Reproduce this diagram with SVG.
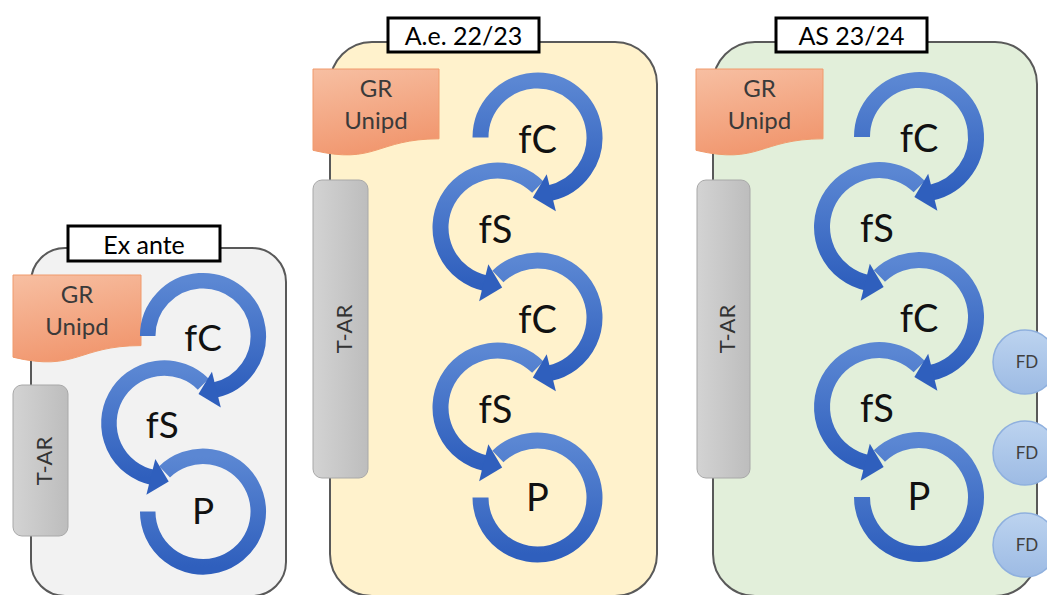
<svg xmlns="http://www.w3.org/2000/svg" xmlns:xlink="http://www.w3.org/1999/xlink" width="1047" height="595" viewBox="0 0 1047 595">
<defs>
<linearGradient id="gArc" x1="0" y1="0" x2="0" y2="1"><stop offset="0" stop-color="#5b87d3"/><stop offset="1" stop-color="#2f5fbd"/></linearGradient>
<linearGradient id="gTag" x1="0" y1="0" x2="0.3" y2="1"><stop offset="0" stop-color="#f7bfa2"/><stop offset="1" stop-color="#f19870"/></linearGradient>
<linearGradient id="gPill" x1="0" y1="0" x2="1" y2="0"><stop offset="0" stop-color="#d3d3d3"/><stop offset="1" stop-color="#bdbdbd"/></linearGradient>
<linearGradient id="gFD" x1="0" y1="0" x2="0" y2="1"><stop offset="0" stop-color="#bcd3ef"/><stop offset="1" stop-color="#9dbbe4"/></linearGradient>
<g id="fC1"><path class="arc" d="M-57 0A57 57 0 1 1 11.85 55.75"/><polygon class="head" points="9.19,36.87 18.38,73.74 -4.65,59.91"/><text class="big" x="0" y="15">fC</text></g>
<g id="fC2"><path class="arc" d="M-39.6 -41A57 57 0 1 1 11.85 55.75"/><polygon class="head" points="9.19,36.87 18.38,73.74 -4.65,59.91"/><text class="big" x="0" y="15">fC</text></g>
<g id="fS"><path class="arc" d="M40.31 -40.31A57 57 0 1 0 -11.85 55.75"/><polygon class="head" points="-9.19,36.87 -18.38,73.74 4.65,59.91"/><text class="big" x="-2" y="15">fS</text></g>
<g id="Pc"><path class="arc" d="M-39.6 -41A57 57 0 1 1 -57 0"/><text class="big" x="0" y="13">P</text></g>
</defs>
<style>
.ff{font-family:Lato,'Liberation Sans',sans-serif}
text{font-family:Lato,'Liberation Sans',sans-serif;text-anchor:middle}
.panel{stroke:#595959;stroke-width:2}
.lbl{fill:#fff;stroke:#000;stroke-width:3}
.lt{font-size:25px;fill:#000}
.arc{fill:none;stroke:url(#gArc);stroke-width:16}
.head{fill:#2f5fbd}
.big{font-size:38px;fill:#111}
.tag{fill:url(#gTag);stroke:#f09a6c;stroke-width:1}
.tt{font-size:24px;fill:#3a3a3a}
.pill{fill:url(#gPill);stroke:#a8a8a8;stroke-width:1}
.pt{font-size:22px;fill:#333}
.fd{fill:url(#gFD);stroke:#8fb0de;stroke-width:1.5}
.fdt{font-size:17px;fill:#404040}
</style>

<!-- Panel 1: Ex ante -->
<g id="panel-exante">
<rect class="panel" x="31" y="248" width="255" height="348" rx="34" fill="#f2f2f2"/>
<g id="label-exante"><rect class="lbl" x="68" y="226" width="152" height="35"/><text class="lt" x="144" y="254">Ex ante</text></g>
<g id="gr-1"><path class="tag" d="M13,275 H141 V345.6 C77,345.6 77,372.4 13,357.2 Z"/><text class="tt" x="77" y="303">GR</text><text class="tt" x="77" y="335">Unipd</text></g>
<g id="tar-1"><rect class="pill" x="13" y="385" width="55" height="151" rx="9"/><text class="pt" transform="translate(52,461) rotate(-90)">T-AR</text></g>
<g id="chain-1" transform="translate(203,336) scale(0.97)">
<use xlink:href="#Pc" x="0" y="181"/>
<use xlink:href="#fS" x="-40" y="90"/>
<use xlink:href="#fC1" x="0" y="0"/>
</g>
</g>

<!-- Panel 2: A.e. 22/23 -->
<g id="panel-ae">
<rect class="panel" x="330" y="42" width="327" height="554" rx="42" fill="#fff2cc"/>
<g id="label-ae"><rect class="lbl" x="388" y="18" width="151" height="34"/><text class="lt" x="463.5" y="45">A.e. 22/23</text></g>
<g id="gr-2"><path class="tag" d="M313,69 H439 V138.8 C376,138.8 376,165.3 313,150.3 Z"/><text class="tt" x="376" y="97">GR</text><text class="tt" x="376" y="129">Unipd</text></g>
<g id="tar-2"><rect class="pill" x="313" y="180" width="55" height="298" rx="9"/><text class="pt" transform="translate(352,329) rotate(-90)">T-AR</text></g>
<g id="chain-2" transform="translate(537.5,137.5)">
<use xlink:href="#Pc" x="0" y="360"/>
<use xlink:href="#fS" x="-40" y="270"/>
<use xlink:href="#fC2" x="0" y="180"/>
<use xlink:href="#fS" x="-40" y="90"/>
<use xlink:href="#fC1" x="0" y="0"/>
</g>
</g>

<!-- Panel 3: AS 23/24 -->
<g id="panel-as">
<rect class="panel" x="713" y="42" width="324" height="554" rx="42" fill="#e2efda"/>
<g id="label-as"><rect class="lbl" x="776" y="18" width="151" height="34"/><text class="lt" x="851.5" y="45">AS 23/24</text></g>
<g id="gr-3"><path class="tag" d="M696,69 H823 V138.8 C759.5,138.8 759.5,165.3 696,150.3 Z"/><text class="tt" x="759.5" y="97">GR</text><text class="tt" x="759.5" y="129">Unipd</text></g>
<g id="tar-3"><rect class="pill" x="697" y="180" width="53" height="298" rx="9"/><text class="pt" transform="translate(735,329) rotate(-90)">T-AR</text></g>
<g id="chain-3" transform="translate(919,137)">
<use xlink:href="#Pc" x="0" y="360"/>
<use xlink:href="#fS" x="-40" y="270"/>
<use xlink:href="#fC2" x="0" y="180"/>
<use xlink:href="#fS" x="-40" y="90"/>
<use xlink:href="#fC1" x="0" y="0"/>
</g>
<g id="fd-1"><circle class="fd" cx="1025" cy="362" r="32"/><text class="fdt" x="1027" y="368">FD</text></g>
<g id="fd-2"><circle class="fd" cx="1025" cy="453" r="32"/><text class="fdt" x="1027" y="459">FD</text></g>
<g id="fd-3"><circle class="fd" cx="1025" cy="545" r="32"/><text class="fdt" x="1027" y="551">FD</text></g>
</g>
<g id="connectors"/>
</svg>
